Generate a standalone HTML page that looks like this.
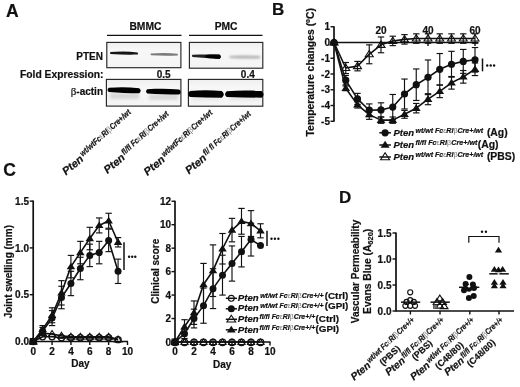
<!DOCTYPE html>
<html><head><meta charset="utf-8"><title>Figure</title>
<style>
html,body{margin:0;padding:0;background:#fff;width:520px;height:387px;overflow:hidden}
svg{display:block;filter:blur(0.3px)}
text{font-family:"Liberation Sans", sans-serif;stroke:#111;stroke-width:0.2px}
</style></head>
<body>
<svg width="520" height="387" viewBox="0 0 520 387">
<rect width="520" height="387" fill="#fff"/>
<g font-family='"Liberation Sans", sans-serif'>
<text x="6" y="16.8" text-anchor="start" fill="#111" stroke="#111" style="font-size:17.5px;font-weight:bold;font-style:normal" >A</text>
<text x="145.4" y="29.9" text-anchor="middle" fill="#111" stroke="#111" style="font-size:10.3px;font-weight:bold;font-style:normal" >BMMC</text>
<text x="226.1" y="29.9" text-anchor="middle" fill="#111" stroke="#111" style="font-size:10.3px;font-weight:bold;font-style:normal" >PMC</text>
<line x1="107.00" y1="35.40" x2="181.50" y2="35.40" stroke="#111" stroke-width="1.4"/>
<line x1="189.00" y1="35.40" x2="262.50" y2="35.40" stroke="#111" stroke-width="1.4"/>
<text x="103" y="60" text-anchor="end" fill="#111" stroke="#111" style="font-size:10px;font-weight:bold;font-style:normal" >PTEN</text>
<text x="103.5" y="77.7" text-anchor="end" fill="#111" stroke="#111" style="font-size:10.3px;font-weight:bold;font-style:normal" >Fold Expression:</text>
<text x="103" y="95.4" text-anchor="end" fill="#111" style="font-size:10px;font-weight:bold"><tspan style="font-family:'Liberation Serif',serif;font-weight:normal;font-size:11px">β</tspan>-actin</text>
<text x="163.7" y="78.0" text-anchor="middle" fill="#111" stroke="#111" style="font-size:10px;font-weight:bold;font-style:normal" >0.5</text>
<text x="247.8" y="78.0" text-anchor="middle" fill="#111" stroke="#111" style="font-size:10px;font-weight:bold;font-style:normal" >0.4</text>
<defs>
<linearGradient id="gbox" x1="0" y1="0" x2="0" y2="1"><stop offset="0" stop-color="#eeeeee"/><stop offset="0.3" stop-color="#f7f7f7"/><stop offset="1" stop-color="#f4f4f4"/></linearGradient>
<filter id="bl1" x="-20%" y="-100%" width="140%" height="300%"><feGaussianBlur stdDeviation="0.9"/></filter>
<filter id="bl2" x="-20%" y="-100%" width="140%" height="300%"><feGaussianBlur stdDeviation="0.6"/></filter>
<filter id="bl3" x="-20%" y="-100%" width="140%" height="300%"><feGaussianBlur stdDeviation="1.6"/></filter>
</defs>
<rect x="106.8" y="42.4" width="74.10000000000001" height="25.300000000000004" fill="url(#gbox)" stroke="#262626" stroke-width="1.15"/>
<rect x="189.4" y="42.4" width="73.4" height="25.800000000000004" fill="url(#gbox)" stroke="#262626" stroke-width="1.15"/>
<rect x="106.4" y="79.4" width="74.5" height="26.69999999999999" fill="url(#gbox)" stroke="#262626" stroke-width="1.15"/>
<rect x="188.4" y="79.4" width="74.4" height="26.799999999999997" fill="url(#gbox)" stroke="#262626" stroke-width="1.15"/>
<path d="M110.50,52.10 C119.50,51.10 128.50,51.10 137.50,52.60 Q138.70,53.60 137.50,54.60 C128.50,54.70 119.50,54.70 110.50,53.90 Q109.42,53.00 110.50,52.10 Z" fill="#121212" filter="url(#bl2)" />
<path d="M151.00,53.60 C159.83,52.75 168.67,52.75 177.50,53.70 Q178.58,54.60 177.50,55.50 C168.67,55.77 159.83,55.77 151.00,55.20 Q150.04,54.40 151.00,53.60 Z" fill="#7a7a7a" filter="url(#bl2)" />
<path d="M192.50,54.80 C201.50,54.35 210.50,54.35 219.50,54.70 Q222.02,56.80 219.50,58.90 C210.50,58.03 201.50,58.03 192.50,57.00 Q191.18,55.90 192.50,54.80 Z" fill="#202020" filter="url(#bl2)" />
<path d="M206.00,55.00 C210.50,54.40 215.00,54.40 219.50,54.60 Q222.14,56.80 219.50,59.00 C215.00,58.80 210.50,58.80 206.00,57.80 Q204.32,56.40 206.00,55.00 Z" fill="#000" filter="url(#bl2)" />
<path d="M230.00,56.00 C239.83,55.30 249.67,55.30 259.50,56.00 Q260.94,57.20 259.50,58.40 C249.67,58.58 239.83,58.58 230.00,58.00 Q228.80,57.00 230.00,56.00 Z" fill="#b0b0b0" filter="url(#bl1)" />
<rect x="110" y="93" width="29" height="6" fill="#d6d6d6" filter="url(#bl3)"/>
<rect x="149" y="94" width="29" height="6" fill="#d8d8d8" filter="url(#bl3)"/>
<rect x="192" y="97" width="28" height="3" fill="#e2e2e2" filter="url(#bl3)"/>
<rect x="229" y="97" width="31" height="3" fill="#e2e2e2" filter="url(#bl3)"/>
<path d="M108.80,87.70 C118.93,86.90 129.07,86.90 139.20,88.30 Q142.20,90.80 139.20,93.30 C129.07,92.90 118.93,92.90 108.80,91.90 Q106.28,89.80 108.80,87.70 Z" fill="#050505" filter="url(#bl2)" />
<path d="M147.30,89.20 C157.93,88.55 168.57,88.55 179.20,89.40 Q182.32,92.00 179.20,94.60 C168.57,94.27 157.93,94.27 147.30,93.40 Q144.78,91.30 147.30,89.20 Z" fill="#050505" filter="url(#bl2)" />
<path d="M190.00,90.90 C200.60,90.10 211.20,90.10 221.80,91.00 Q225.88,94.40 221.80,97.80 C211.20,97.66 200.60,97.66 190.00,97.10 Q186.28,94.00 190.00,90.90 Z" fill="#050505" filter="url(#bl2)" />
<path d="M226.80,91.30 C238.40,90.40 250.00,90.40 261.60,91.10 Q265.56,94.40 261.60,97.70 C250.00,97.56 238.40,97.56 226.80,97.10 Q223.32,94.20 226.80,91.30 Z" fill="#050505" filter="url(#bl2)" />
<text transform="translate(66.00,175.50) rotate(-40)" fill="#111" style="font-size:11px;font-weight:bold;font-style:italic">Pten</text>
<text transform="translate(82.77,156.73) rotate(-42)" fill="#111" textLength="65.4" lengthAdjust="spacingAndGlyphs" style="font-size:8.4px;font-weight:bold;font-style:italic">wt/wtFc<tspan fill="#777" stroke="none" style="font-weight:normal;font-style:normal">ε</tspan>RI<tspan fill="#777" stroke="none" style="font-weight:normal;font-style:normal">β</tspan>Cre+/wt</text>
<text transform="translate(107.50,174.00) rotate(-40)" fill="#111" style="font-size:11px;font-weight:bold;font-style:italic">Pten</text>
<text transform="translate(124.27,155.23) rotate(-42)" fill="#111" textLength="60.5" lengthAdjust="spacingAndGlyphs" style="font-size:8.4px;font-weight:bold;font-style:italic">fl/fl Fc<tspan fill="#777" stroke="none" style="font-weight:normal;font-style:normal">ε</tspan>RI<tspan fill="#777" stroke="none" style="font-weight:normal;font-style:normal">β</tspan>Cre+/wt</text>
<text transform="translate(147.50,176.00) rotate(-40)" fill="#111" style="font-size:11px;font-weight:bold;font-style:italic">Pten</text>
<text transform="translate(164.27,157.23) rotate(-42)" fill="#111" textLength="65.4" lengthAdjust="spacingAndGlyphs" style="font-size:8.4px;font-weight:bold;font-style:italic">wt/wtFc<tspan fill="#777" stroke="none" style="font-weight:normal;font-style:normal">ε</tspan>RI<tspan fill="#777" stroke="none" style="font-weight:normal;font-style:normal">β</tspan>Cre+/wt</text>
<text transform="translate(189.00,174.50) rotate(-40)" fill="#111" style="font-size:11px;font-weight:bold;font-style:italic">Pten</text>
<text transform="translate(205.77,155.73) rotate(-42)" fill="#111" textLength="61.5" lengthAdjust="spacingAndGlyphs" style="font-size:8.4px;font-weight:bold;font-style:italic">fl/ fl Fc<tspan fill="#777" stroke="none" style="font-weight:normal;font-style:normal">ε</tspan>RI<tspan fill="#777" stroke="none" style="font-weight:normal;font-style:normal">β</tspan>Cre+/wt</text>
<text x="272" y="14.8" text-anchor="start" fill="#111" stroke="#111" style="font-size:17px;font-weight:bold;font-style:normal" >B</text>
<text transform="translate(313.6,72.3) rotate(-90)" text-anchor="middle" fill="#111" style="font-size:10.4px;font-weight:bold">Temperature changes (ºC)</text>
<line x1="334.00" y1="26.15" x2="334.00" y2="121.85" stroke="#111" stroke-width="1.7"/>
<line x1="330.50" y1="26.75" x2="334.00" y2="26.75" stroke="#111" stroke-width="1.4"/>
<text x="330" y="30.25" text-anchor="end" fill="#111" stroke="#111" style="font-size:10px;font-weight:bold;font-style:normal" >1</text>
<line x1="330.50" y1="42.50" x2="334.00" y2="42.50" stroke="#111" stroke-width="1.4"/>
<text x="330" y="46.0" text-anchor="end" fill="#111" stroke="#111" style="font-size:10px;font-weight:bold;font-style:normal" >0</text>
<line x1="330.50" y1="58.25" x2="334.00" y2="58.25" stroke="#111" stroke-width="1.4"/>
<text x="330" y="61.75" text-anchor="end" fill="#111" stroke="#111" style="font-size:10px;font-weight:bold;font-style:normal" >-1</text>
<line x1="330.50" y1="74.00" x2="334.00" y2="74.00" stroke="#111" stroke-width="1.4"/>
<text x="330" y="77.5" text-anchor="end" fill="#111" stroke="#111" style="font-size:10px;font-weight:bold;font-style:normal" >-2</text>
<line x1="330.50" y1="89.75" x2="334.00" y2="89.75" stroke="#111" stroke-width="1.4"/>
<text x="330" y="93.25" text-anchor="end" fill="#111" stroke="#111" style="font-size:10px;font-weight:bold;font-style:normal" >-3</text>
<line x1="330.50" y1="105.50" x2="334.00" y2="105.50" stroke="#111" stroke-width="1.4"/>
<text x="330" y="109.0" text-anchor="end" fill="#111" stroke="#111" style="font-size:10px;font-weight:bold;font-style:normal" >-4</text>
<line x1="330.50" y1="121.25" x2="334.00" y2="121.25" stroke="#111" stroke-width="1.4"/>
<text x="330" y="124.75" text-anchor="end" fill="#111" stroke="#111" style="font-size:10px;font-weight:bold;font-style:normal" >-5</text>
<line x1="334.00" y1="42.50" x2="478.50" y2="42.50" stroke="#111" stroke-width="1.7"/>
<line x1="381.00" y1="42.50" x2="381.00" y2="46.00" stroke="#111" stroke-width="1.4"/>
<text x="381.0" y="34.2" text-anchor="middle" fill="#111" stroke="#111" style="font-size:10px;font-weight:bold;font-style:normal" >20</text>
<line x1="428.00" y1="42.50" x2="428.00" y2="46.00" stroke="#111" stroke-width="1.4"/>
<text x="428.0" y="34.2" text-anchor="middle" fill="#111" stroke="#111" style="font-size:10px;font-weight:bold;font-style:normal" >40</text>
<line x1="475.00" y1="42.50" x2="475.00" y2="46.00" stroke="#111" stroke-width="1.4"/>
<text x="475.0" y="34.2" text-anchor="middle" fill="#111" stroke="#111" style="font-size:10px;font-weight:bold;font-style:normal" >60</text>
<line x1="345.75" y1="62.50" x2="345.75" y2="73.53" stroke="#111" stroke-width="1.15"/>
<line x1="342.55" y1="62.50" x2="348.95" y2="62.50" stroke="#111" stroke-width="1.15"/>
<line x1="342.55" y1="73.53" x2="348.95" y2="73.53" stroke="#111" stroke-width="1.15"/>
<line x1="357.50" y1="61.40" x2="357.50" y2="70.85" stroke="#111" stroke-width="1.15"/>
<line x1="354.30" y1="61.40" x2="360.70" y2="61.40" stroke="#111" stroke-width="1.15"/>
<line x1="354.30" y1="70.85" x2="360.70" y2="70.85" stroke="#111" stroke-width="1.15"/>
<line x1="369.25" y1="44.86" x2="369.25" y2="63.76" stroke="#111" stroke-width="1.15"/>
<line x1="366.05" y1="44.86" x2="372.45" y2="44.86" stroke="#111" stroke-width="1.15"/>
<line x1="366.05" y1="63.76" x2="372.45" y2="63.76" stroke="#111" stroke-width="1.15"/>
<line x1="381.00" y1="36.99" x2="381.00" y2="52.74" stroke="#111" stroke-width="1.15"/>
<line x1="377.80" y1="36.99" x2="384.20" y2="36.99" stroke="#111" stroke-width="1.15"/>
<line x1="377.80" y1="52.74" x2="384.20" y2="52.74" stroke="#111" stroke-width="1.15"/>
<line x1="392.75" y1="36.20" x2="392.75" y2="45.65" stroke="#111" stroke-width="1.15"/>
<line x1="389.55" y1="36.20" x2="395.95" y2="36.20" stroke="#111" stroke-width="1.15"/>
<line x1="389.55" y1="45.65" x2="395.95" y2="45.65" stroke="#111" stroke-width="1.15"/>
<line x1="404.50" y1="34.62" x2="404.50" y2="44.08" stroke="#111" stroke-width="1.15"/>
<line x1="401.30" y1="34.62" x2="407.70" y2="34.62" stroke="#111" stroke-width="1.15"/>
<line x1="401.30" y1="44.08" x2="407.70" y2="44.08" stroke="#111" stroke-width="1.15"/>
<line x1="416.25" y1="33.84" x2="416.25" y2="43.29" stroke="#111" stroke-width="1.15"/>
<line x1="413.05" y1="33.84" x2="419.45" y2="33.84" stroke="#111" stroke-width="1.15"/>
<line x1="413.05" y1="43.29" x2="419.45" y2="43.29" stroke="#111" stroke-width="1.15"/>
<line x1="428.00" y1="33.84" x2="428.00" y2="43.29" stroke="#111" stroke-width="1.15"/>
<line x1="424.80" y1="33.84" x2="431.20" y2="33.84" stroke="#111" stroke-width="1.15"/>
<line x1="424.80" y1="43.29" x2="431.20" y2="43.29" stroke="#111" stroke-width="1.15"/>
<line x1="439.75" y1="33.84" x2="439.75" y2="43.29" stroke="#111" stroke-width="1.15"/>
<line x1="436.55" y1="33.84" x2="442.95" y2="33.84" stroke="#111" stroke-width="1.15"/>
<line x1="436.55" y1="43.29" x2="442.95" y2="43.29" stroke="#111" stroke-width="1.15"/>
<line x1="451.50" y1="33.84" x2="451.50" y2="43.29" stroke="#111" stroke-width="1.15"/>
<line x1="448.30" y1="33.84" x2="454.70" y2="33.84" stroke="#111" stroke-width="1.15"/>
<line x1="448.30" y1="43.29" x2="454.70" y2="43.29" stroke="#111" stroke-width="1.15"/>
<line x1="463.25" y1="33.84" x2="463.25" y2="43.29" stroke="#111" stroke-width="1.15"/>
<line x1="460.05" y1="33.84" x2="466.45" y2="33.84" stroke="#111" stroke-width="1.15"/>
<line x1="460.05" y1="43.29" x2="466.45" y2="43.29" stroke="#111" stroke-width="1.15"/>
<line x1="475.00" y1="33.84" x2="475.00" y2="43.29" stroke="#111" stroke-width="1.15"/>
<line x1="471.80" y1="33.84" x2="478.20" y2="33.84" stroke="#111" stroke-width="1.15"/>
<line x1="471.80" y1="43.29" x2="478.20" y2="43.29" stroke="#111" stroke-width="1.15"/>
<line x1="345.75" y1="75.42" x2="345.75" y2="84.87" stroke="#111" stroke-width="1.15"/>
<line x1="342.55" y1="75.42" x2="348.95" y2="75.42" stroke="#111" stroke-width="1.15"/>
<line x1="342.55" y1="84.87" x2="348.95" y2="84.87" stroke="#111" stroke-width="1.15"/>
<line x1="357.50" y1="93.37" x2="357.50" y2="104.40" stroke="#111" stroke-width="1.15"/>
<line x1="354.30" y1="93.37" x2="360.70" y2="93.37" stroke="#111" stroke-width="1.15"/>
<line x1="354.30" y1="104.40" x2="360.70" y2="104.40" stroke="#111" stroke-width="1.15"/>
<line x1="369.25" y1="103.92" x2="369.25" y2="116.53" stroke="#111" stroke-width="1.15"/>
<line x1="366.05" y1="103.92" x2="372.45" y2="103.92" stroke="#111" stroke-width="1.15"/>
<line x1="366.05" y1="116.53" x2="372.45" y2="116.53" stroke="#111" stroke-width="1.15"/>
<line x1="381.00" y1="102.82" x2="381.00" y2="117.00" stroke="#111" stroke-width="1.15"/>
<line x1="377.80" y1="102.82" x2="384.20" y2="102.82" stroke="#111" stroke-width="1.15"/>
<line x1="377.80" y1="117.00" x2="384.20" y2="117.00" stroke="#111" stroke-width="1.15"/>
<line x1="392.75" y1="94.47" x2="392.75" y2="119.67" stroke="#111" stroke-width="1.15"/>
<line x1="389.55" y1="94.47" x2="395.95" y2="94.47" stroke="#111" stroke-width="1.15"/>
<line x1="389.55" y1="119.67" x2="395.95" y2="119.67" stroke="#111" stroke-width="1.15"/>
<line x1="404.50" y1="79.04" x2="404.50" y2="108.96" stroke="#111" stroke-width="1.15"/>
<line x1="401.30" y1="79.04" x2="407.70" y2="79.04" stroke="#111" stroke-width="1.15"/>
<line x1="401.30" y1="108.96" x2="407.70" y2="108.96" stroke="#111" stroke-width="1.15"/>
<line x1="416.25" y1="68.96" x2="416.25" y2="100.46" stroke="#111" stroke-width="1.15"/>
<line x1="413.05" y1="68.96" x2="419.45" y2="68.96" stroke="#111" stroke-width="1.15"/>
<line x1="413.05" y1="100.46" x2="419.45" y2="100.46" stroke="#111" stroke-width="1.15"/>
<line x1="428.00" y1="59.98" x2="428.00" y2="94.63" stroke="#111" stroke-width="1.15"/>
<line x1="424.80" y1="59.98" x2="431.20" y2="59.98" stroke="#111" stroke-width="1.15"/>
<line x1="424.80" y1="94.63" x2="431.20" y2="94.63" stroke="#111" stroke-width="1.15"/>
<line x1="439.75" y1="53.52" x2="439.75" y2="85.03" stroke="#111" stroke-width="1.15"/>
<line x1="436.55" y1="53.52" x2="442.95" y2="53.52" stroke="#111" stroke-width="1.15"/>
<line x1="436.55" y1="85.03" x2="442.95" y2="85.03" stroke="#111" stroke-width="1.15"/>
<line x1="451.50" y1="51.32" x2="451.50" y2="77.15" stroke="#111" stroke-width="1.15"/>
<line x1="448.30" y1="51.32" x2="454.70" y2="51.32" stroke="#111" stroke-width="1.15"/>
<line x1="448.30" y1="77.15" x2="454.70" y2="77.15" stroke="#111" stroke-width="1.15"/>
<line x1="463.25" y1="49.43" x2="463.25" y2="73.37" stroke="#111" stroke-width="1.15"/>
<line x1="460.05" y1="49.43" x2="466.45" y2="49.43" stroke="#111" stroke-width="1.15"/>
<line x1="460.05" y1="73.37" x2="466.45" y2="73.37" stroke="#111" stroke-width="1.15"/>
<line x1="475.00" y1="47.54" x2="475.00" y2="72.11" stroke="#111" stroke-width="1.15"/>
<line x1="471.80" y1="47.54" x2="478.20" y2="47.54" stroke="#111" stroke-width="1.15"/>
<line x1="471.80" y1="72.11" x2="478.20" y2="72.11" stroke="#111" stroke-width="1.15"/>
<line x1="345.75" y1="85.97" x2="345.75" y2="90.69" stroke="#111" stroke-width="1.15"/>
<line x1="342.55" y1="85.97" x2="348.95" y2="85.97" stroke="#111" stroke-width="1.15"/>
<line x1="342.55" y1="90.69" x2="348.95" y2="90.69" stroke="#111" stroke-width="1.15"/>
<line x1="357.50" y1="101.72" x2="357.50" y2="108.02" stroke="#111" stroke-width="1.15"/>
<line x1="354.30" y1="101.72" x2="360.70" y2="101.72" stroke="#111" stroke-width="1.15"/>
<line x1="354.30" y1="108.02" x2="360.70" y2="108.02" stroke="#111" stroke-width="1.15"/>
<line x1="369.25" y1="109.91" x2="369.25" y2="119.36" stroke="#111" stroke-width="1.15"/>
<line x1="366.05" y1="109.91" x2="372.45" y2="109.91" stroke="#111" stroke-width="1.15"/>
<line x1="366.05" y1="119.36" x2="372.45" y2="119.36" stroke="#111" stroke-width="1.15"/>
<line x1="381.00" y1="117.00" x2="381.00" y2="123.30" stroke="#111" stroke-width="1.15"/>
<line x1="377.80" y1="117.00" x2="384.20" y2="117.00" stroke="#111" stroke-width="1.15"/>
<line x1="377.80" y1="123.30" x2="384.20" y2="123.30" stroke="#111" stroke-width="1.15"/>
<line x1="392.75" y1="117.00" x2="392.75" y2="123.30" stroke="#111" stroke-width="1.15"/>
<line x1="389.55" y1="117.00" x2="395.95" y2="117.00" stroke="#111" stroke-width="1.15"/>
<line x1="389.55" y1="123.30" x2="395.95" y2="123.30" stroke="#111" stroke-width="1.15"/>
<line x1="404.50" y1="110.38" x2="404.50" y2="118.26" stroke="#111" stroke-width="1.15"/>
<line x1="401.30" y1="110.38" x2="407.70" y2="110.38" stroke="#111" stroke-width="1.15"/>
<line x1="401.30" y1="118.26" x2="407.70" y2="118.26" stroke="#111" stroke-width="1.15"/>
<line x1="416.25" y1="103.45" x2="416.25" y2="112.90" stroke="#111" stroke-width="1.15"/>
<line x1="413.05" y1="103.45" x2="419.45" y2="103.45" stroke="#111" stroke-width="1.15"/>
<line x1="413.05" y1="112.90" x2="419.45" y2="112.90" stroke="#111" stroke-width="1.15"/>
<line x1="428.00" y1="93.69" x2="428.00" y2="104.71" stroke="#111" stroke-width="1.15"/>
<line x1="424.80" y1="93.69" x2="431.20" y2="93.69" stroke="#111" stroke-width="1.15"/>
<line x1="424.80" y1="104.71" x2="431.20" y2="104.71" stroke="#111" stroke-width="1.15"/>
<line x1="439.75" y1="85.03" x2="439.75" y2="97.62" stroke="#111" stroke-width="1.15"/>
<line x1="436.55" y1="85.03" x2="442.95" y2="85.03" stroke="#111" stroke-width="1.15"/>
<line x1="436.55" y1="97.62" x2="442.95" y2="97.62" stroke="#111" stroke-width="1.15"/>
<line x1="451.50" y1="76.52" x2="451.50" y2="89.12" stroke="#111" stroke-width="1.15"/>
<line x1="448.30" y1="76.52" x2="454.70" y2="76.52" stroke="#111" stroke-width="1.15"/>
<line x1="448.30" y1="89.12" x2="454.70" y2="89.12" stroke="#111" stroke-width="1.15"/>
<line x1="463.25" y1="70.53" x2="463.25" y2="83.13" stroke="#111" stroke-width="1.15"/>
<line x1="460.05" y1="70.53" x2="466.45" y2="70.53" stroke="#111" stroke-width="1.15"/>
<line x1="460.05" y1="83.13" x2="466.45" y2="83.13" stroke="#111" stroke-width="1.15"/>
<line x1="475.00" y1="62.97" x2="475.00" y2="75.58" stroke="#111" stroke-width="1.15"/>
<line x1="471.80" y1="62.97" x2="478.20" y2="62.97" stroke="#111" stroke-width="1.15"/>
<line x1="471.80" y1="75.58" x2="478.20" y2="75.58" stroke="#111" stroke-width="1.15"/>
<polyline points="334.00,42.50 345.75,68.02 357.50,66.12 369.25,54.31 381.00,44.86 392.75,40.92 404.50,39.35 416.25,38.56 428.00,38.56 439.75,38.56 451.50,38.56 463.25,38.56 475.00,38.56" fill="none" stroke="#111" stroke-width="1.6" stroke-linejoin="round"/>
<polyline points="334.00,42.50 345.75,80.14 357.50,98.88 369.25,110.22 381.00,109.91 392.75,107.07 404.50,94.00 416.25,84.71 428.00,77.31 439.75,69.28 451.50,64.23 463.25,61.40 475.00,59.83" fill="none" stroke="#111" stroke-width="1.6" stroke-linejoin="round"/>
<polyline points="334.00,42.50 345.75,88.33 357.50,104.87 369.25,114.64 381.00,120.15 392.75,120.15 404.50,114.32 416.25,108.18 428.00,99.20 439.75,91.33 451.50,82.82 463.25,76.84 475.00,69.28" fill="none" stroke="#111" stroke-width="1.6" stroke-linejoin="round"/>
<polygon points="334.00,38.76 338.00,45.00 330.00,45.00" fill="none" stroke="#111" stroke-width="1.1" stroke-linejoin="miter"/>
<polygon points="345.75,64.27 349.75,70.51 341.75,70.51" fill="none" stroke="#111" stroke-width="1.1" stroke-linejoin="miter"/>
<polygon points="357.50,62.38 361.50,68.62 353.50,68.62" fill="none" stroke="#111" stroke-width="1.1" stroke-linejoin="miter"/>
<polygon points="369.25,50.57 373.25,56.81 365.25,56.81" fill="none" stroke="#111" stroke-width="1.1" stroke-linejoin="miter"/>
<polygon points="381.00,41.12 385.00,47.36 377.00,47.36" fill="none" stroke="#111" stroke-width="1.1" stroke-linejoin="miter"/>
<polygon points="392.75,37.18 396.75,43.42 388.75,43.42" fill="none" stroke="#111" stroke-width="1.1" stroke-linejoin="miter"/>
<polygon points="404.50,35.61 408.50,41.85 400.50,41.85" fill="none" stroke="#111" stroke-width="1.1" stroke-linejoin="miter"/>
<polygon points="416.25,34.82 420.25,41.06 412.25,41.06" fill="none" stroke="#111" stroke-width="1.1" stroke-linejoin="miter"/>
<polygon points="428.00,34.82 432.00,41.06 424.00,41.06" fill="none" stroke="#111" stroke-width="1.1" stroke-linejoin="miter"/>
<polygon points="439.75,34.82 443.75,41.06 435.75,41.06" fill="none" stroke="#111" stroke-width="1.1" stroke-linejoin="miter"/>
<polygon points="451.50,34.82 455.50,41.06 447.50,41.06" fill="none" stroke="#111" stroke-width="1.1" stroke-linejoin="miter"/>
<polygon points="463.25,34.82 467.25,41.06 459.25,41.06" fill="none" stroke="#111" stroke-width="1.1" stroke-linejoin="miter"/>
<polygon points="475.00,34.82 479.00,41.06 471.00,41.06" fill="none" stroke="#111" stroke-width="1.1" stroke-linejoin="miter"/>
<polygon points="334.00,38.41 338.38,45.23 329.62,45.23" fill="#111"/>
<polygon points="345.75,84.24 350.12,91.06 341.38,91.06" fill="#111"/>
<polygon points="357.50,100.78 361.88,107.60 353.12,107.60" fill="#111"/>
<polygon points="369.25,110.54 373.62,117.37 364.88,117.37" fill="#111"/>
<polygon points="381.00,116.05 385.38,122.88 376.62,122.88" fill="#111"/>
<polygon points="392.75,116.05 397.12,122.88 388.38,122.88" fill="#111"/>
<polygon points="404.50,110.22 408.88,117.05 400.12,117.05" fill="#111"/>
<polygon points="416.25,104.08 420.62,110.91 411.88,110.91" fill="#111"/>
<polygon points="428.00,95.11 432.38,101.93 423.62,101.93" fill="#111"/>
<polygon points="439.75,87.23 444.12,94.06 435.38,94.06" fill="#111"/>
<polygon points="451.50,78.72 455.88,85.55 447.12,85.55" fill="#111"/>
<polygon points="463.25,72.74 467.62,79.57 458.88,79.57" fill="#111"/>
<polygon points="475.00,65.18 479.38,72.01 470.62,72.01" fill="#111"/>
<circle cx="334.00" cy="42.50" r="3.60" fill="#111"/>
<circle cx="345.75" cy="80.14" r="3.60" fill="#111"/>
<circle cx="357.50" cy="98.88" r="3.60" fill="#111"/>
<circle cx="369.25" cy="110.22" r="3.60" fill="#111"/>
<circle cx="381.00" cy="109.91" r="3.60" fill="#111"/>
<circle cx="392.75" cy="107.07" r="3.60" fill="#111"/>
<circle cx="404.50" cy="94.00" r="3.60" fill="#111"/>
<circle cx="416.25" cy="84.71" r="3.60" fill="#111"/>
<circle cx="428.00" cy="77.31" r="3.60" fill="#111"/>
<circle cx="439.75" cy="69.28" r="3.60" fill="#111"/>
<circle cx="451.50" cy="64.23" r="3.60" fill="#111"/>
<circle cx="463.25" cy="61.40" r="3.60" fill="#111"/>
<circle cx="475.00" cy="59.83" r="3.60" fill="#111"/>
<circle cx="334.00" cy="42.50" r="3.60" fill="#111"/>
<line x1="482.50" y1="58.50" x2="482.50" y2="71.30" stroke="#111" stroke-width="1.5"/>
<circle cx="487.2" cy="65.5" r="1.2" fill="#111"/>
<circle cx="490.7" cy="65.5" r="1.2" fill="#111"/>
<circle cx="494.1" cy="65.5" r="1.2" fill="#111"/>
<line x1="379.30" y1="132.80" x2="390.90" y2="132.80" stroke="#111" stroke-width="1.5"/>
<circle cx="385.10" cy="132.80" r="3.60" fill="#111"/>
<text x="393.5" y="135.6" fill="#111" style="font-size:9.5px;font-weight:bold;font-style:italic">Pten</text>
<text x="415.40" y="133.1" fill="#111" textLength="67.8" lengthAdjust="spacingAndGlyphs" style="font-size:6.4px;font-weight:bold;font-style:italic">wt/wt Fc<tspan fill="#777" stroke="none" style="font-weight:normal;font-style:normal">ε</tspan>RI<tspan fill="#777" stroke="none" style="font-weight:normal;font-style:normal">β</tspan>Cre+/wt</text>
<text x="486.9" y="135.6" text-anchor="start" fill="#111" stroke="#111" style="font-size:10.4px;font-weight:bold;font-style:normal" >(Ag)</text>
<line x1="379.30" y1="145.00" x2="390.90" y2="145.00" stroke="#111" stroke-width="1.5"/>
<polygon points="385.10,140.79 389.60,147.81 380.60,147.81" fill="#111"/>
<text x="393.5" y="147.6" fill="#111" style="font-size:9.5px;font-weight:bold;font-style:italic">Pten</text>
<text x="415.40" y="145.1" fill="#111" textLength="62.0" lengthAdjust="spacingAndGlyphs" style="font-size:6.4px;font-weight:bold;font-style:italic">fl/fl Fc<tspan fill="#777" stroke="none" style="font-weight:normal;font-style:normal">ε</tspan>RI<tspan fill="#777" stroke="none" style="font-weight:normal;font-style:normal">β</tspan>Cre+/wt</text>
<text x="477.7" y="147.6" text-anchor="start" fill="#111" stroke="#111" style="font-size:10.4px;font-weight:bold;font-style:normal" >(Ag)</text>
<line x1="379.30" y1="157.00" x2="390.90" y2="157.00" stroke="#111" stroke-width="1.5"/>
<polygon points="385.10,152.79 389.60,159.81 380.60,159.81" fill="none" stroke="#111" stroke-width="1.1" stroke-linejoin="miter"/>
<text x="393.5" y="159.6" fill="#111" style="font-size:9.5px;font-weight:bold;font-style:italic">Pten</text>
<text x="415.40" y="157.1" fill="#111" textLength="67.8" lengthAdjust="spacingAndGlyphs" style="font-size:6.4px;font-weight:bold;font-style:italic">wt/wt Fc<tspan fill="#777" stroke="none" style="font-weight:normal;font-style:normal">ε</tspan>RI<tspan fill="#777" stroke="none" style="font-weight:normal;font-style:normal">β</tspan>Cre+/wt</text>
<text x="486.9" y="159.6" text-anchor="start" fill="#111" stroke="#111" style="font-size:10.4px;font-weight:bold;font-style:normal" >(PBS)</text>
<text x="3.2" y="175.5" text-anchor="start" fill="#111" stroke="#111" style="font-size:17.5px;font-weight:bold;font-style:normal" >C</text>
<text transform="translate(12.3,271.7) rotate(-90)" text-anchor="middle" fill="#111" style="font-size:10px;font-weight:bold">Joint swelling (mm)</text>
<line x1="33.20" y1="200.50" x2="33.20" y2="342.10" stroke="#111" stroke-width="1.7"/>
<line x1="29.70" y1="341.50" x2="33.20" y2="341.50" stroke="#111" stroke-width="1.4"/>
<text x="29" y="345.1" text-anchor="end" fill="#111" stroke="#111" style="font-size:10px;font-weight:bold;font-style:normal" >0.0</text>
<line x1="29.70" y1="294.70" x2="33.20" y2="294.70" stroke="#111" stroke-width="1.4"/>
<text x="29" y="298.3" text-anchor="end" fill="#111" stroke="#111" style="font-size:10px;font-weight:bold;font-style:normal" >0.5</text>
<line x1="29.70" y1="247.90" x2="33.20" y2="247.90" stroke="#111" stroke-width="1.4"/>
<text x="29" y="251.5" text-anchor="end" fill="#111" stroke="#111" style="font-size:10px;font-weight:bold;font-style:normal" >1.0</text>
<line x1="29.70" y1="201.10" x2="33.20" y2="201.10" stroke="#111" stroke-width="1.4"/>
<text x="29" y="204.70000000000002" text-anchor="end" fill="#111" stroke="#111" style="font-size:10px;font-weight:bold;font-style:normal" >1.5</text>
<line x1="33.20" y1="341.50" x2="128.00" y2="341.50" stroke="#111" stroke-width="1.7"/>
<line x1="33.20" y1="341.50" x2="33.20" y2="345.00" stroke="#111" stroke-width="1.4"/>
<text x="33.2" y="354.5" text-anchor="middle" fill="#111" stroke="#111" style="font-size:10px;font-weight:bold;font-style:normal" >0</text>
<line x1="52.06" y1="341.50" x2="52.06" y2="345.00" stroke="#111" stroke-width="1.4"/>
<text x="52.06" y="354.5" text-anchor="middle" fill="#111" stroke="#111" style="font-size:10px;font-weight:bold;font-style:normal" >2</text>
<line x1="70.92" y1="341.50" x2="70.92" y2="345.00" stroke="#111" stroke-width="1.4"/>
<text x="70.92" y="354.5" text-anchor="middle" fill="#111" stroke="#111" style="font-size:10px;font-weight:bold;font-style:normal" >4</text>
<line x1="89.78" y1="341.50" x2="89.78" y2="345.00" stroke="#111" stroke-width="1.4"/>
<text x="89.78" y="354.5" text-anchor="middle" fill="#111" stroke="#111" style="font-size:10px;font-weight:bold;font-style:normal" >6</text>
<line x1="108.64" y1="341.50" x2="108.64" y2="345.00" stroke="#111" stroke-width="1.4"/>
<text x="108.64" y="354.5" text-anchor="middle" fill="#111" stroke="#111" style="font-size:10px;font-weight:bold;font-style:normal" >8</text>
<line x1="127.50" y1="341.50" x2="127.50" y2="345.00" stroke="#111" stroke-width="1.4"/>
<text x="127.5" y="354.5" text-anchor="middle" fill="#111" stroke="#111" style="font-size:10px;font-weight:bold;font-style:normal" >10</text>
<text x="80.5" y="366.5" text-anchor="middle" fill="#111" stroke="#111" style="font-size:10px;font-weight:bold;font-style:normal" >Day</text>
<line x1="42.63" y1="325.59" x2="42.63" y2="333.08" stroke="#111" stroke-width="1.15"/>
<line x1="39.43" y1="325.59" x2="45.83" y2="325.59" stroke="#111" stroke-width="1.15"/>
<line x1="39.43" y1="333.08" x2="45.83" y2="333.08" stroke="#111" stroke-width="1.15"/>
<line x1="52.06" y1="307.80" x2="52.06" y2="322.78" stroke="#111" stroke-width="1.15"/>
<line x1="48.86" y1="307.80" x2="55.26" y2="307.80" stroke="#111" stroke-width="1.15"/>
<line x1="48.86" y1="322.78" x2="55.26" y2="322.78" stroke="#111" stroke-width="1.15"/>
<line x1="61.49" y1="280.66" x2="61.49" y2="305.00" stroke="#111" stroke-width="1.15"/>
<line x1="58.29" y1="280.66" x2="64.69" y2="280.66" stroke="#111" stroke-width="1.15"/>
<line x1="58.29" y1="305.00" x2="64.69" y2="305.00" stroke="#111" stroke-width="1.15"/>
<line x1="70.92" y1="255.39" x2="70.92" y2="277.85" stroke="#111" stroke-width="1.15"/>
<line x1="67.72" y1="255.39" x2="74.12" y2="255.39" stroke="#111" stroke-width="1.15"/>
<line x1="67.72" y1="277.85" x2="74.12" y2="277.85" stroke="#111" stroke-width="1.15"/>
<line x1="80.35" y1="241.35" x2="80.35" y2="263.81" stroke="#111" stroke-width="1.15"/>
<line x1="77.15" y1="241.35" x2="83.55" y2="241.35" stroke="#111" stroke-width="1.15"/>
<line x1="77.15" y1="263.81" x2="83.55" y2="263.81" stroke="#111" stroke-width="1.15"/>
<line x1="89.78" y1="227.31" x2="89.78" y2="249.77" stroke="#111" stroke-width="1.15"/>
<line x1="86.58" y1="227.31" x2="92.98" y2="227.31" stroke="#111" stroke-width="1.15"/>
<line x1="86.58" y1="249.77" x2="92.98" y2="249.77" stroke="#111" stroke-width="1.15"/>
<line x1="99.21" y1="217.95" x2="99.21" y2="232.92" stroke="#111" stroke-width="1.15"/>
<line x1="96.01" y1="217.95" x2="102.41" y2="217.95" stroke="#111" stroke-width="1.15"/>
<line x1="96.01" y1="232.92" x2="102.41" y2="232.92" stroke="#111" stroke-width="1.15"/>
<line x1="108.64" y1="213.27" x2="108.64" y2="228.24" stroke="#111" stroke-width="1.15"/>
<line x1="105.44" y1="213.27" x2="111.84" y2="213.27" stroke="#111" stroke-width="1.15"/>
<line x1="105.44" y1="228.24" x2="111.84" y2="228.24" stroke="#111" stroke-width="1.15"/>
<line x1="118.07" y1="237.60" x2="118.07" y2="246.96" stroke="#111" stroke-width="1.15"/>
<line x1="114.87" y1="237.60" x2="121.27" y2="237.60" stroke="#111" stroke-width="1.15"/>
<line x1="114.87" y1="246.96" x2="121.27" y2="246.96" stroke="#111" stroke-width="1.15"/>
<line x1="42.63" y1="327.46" x2="42.63" y2="334.95" stroke="#111" stroke-width="1.15"/>
<line x1="39.43" y1="327.46" x2="45.83" y2="327.46" stroke="#111" stroke-width="1.15"/>
<line x1="39.43" y1="334.95" x2="45.83" y2="334.95" stroke="#111" stroke-width="1.15"/>
<line x1="52.06" y1="310.61" x2="52.06" y2="325.59" stroke="#111" stroke-width="1.15"/>
<line x1="48.86" y1="310.61" x2="55.26" y2="310.61" stroke="#111" stroke-width="1.15"/>
<line x1="48.86" y1="325.59" x2="55.26" y2="325.59" stroke="#111" stroke-width="1.15"/>
<line x1="61.49" y1="286.28" x2="61.49" y2="308.74" stroke="#111" stroke-width="1.15"/>
<line x1="58.29" y1="286.28" x2="64.69" y2="286.28" stroke="#111" stroke-width="1.15"/>
<line x1="58.29" y1="308.74" x2="64.69" y2="308.74" stroke="#111" stroke-width="1.15"/>
<line x1="70.92" y1="271.30" x2="70.92" y2="295.64" stroke="#111" stroke-width="1.15"/>
<line x1="67.72" y1="271.30" x2="74.12" y2="271.30" stroke="#111" stroke-width="1.15"/>
<line x1="67.72" y1="295.64" x2="74.12" y2="295.64" stroke="#111" stroke-width="1.15"/>
<line x1="80.35" y1="257.26" x2="80.35" y2="279.72" stroke="#111" stroke-width="1.15"/>
<line x1="77.15" y1="257.26" x2="83.55" y2="257.26" stroke="#111" stroke-width="1.15"/>
<line x1="77.15" y1="279.72" x2="83.55" y2="279.72" stroke="#111" stroke-width="1.15"/>
<line x1="89.78" y1="244.16" x2="89.78" y2="266.62" stroke="#111" stroke-width="1.15"/>
<line x1="86.58" y1="244.16" x2="92.98" y2="244.16" stroke="#111" stroke-width="1.15"/>
<line x1="86.58" y1="266.62" x2="92.98" y2="266.62" stroke="#111" stroke-width="1.15"/>
<line x1="99.21" y1="241.35" x2="99.21" y2="263.81" stroke="#111" stroke-width="1.15"/>
<line x1="96.01" y1="241.35" x2="102.41" y2="241.35" stroke="#111" stroke-width="1.15"/>
<line x1="96.01" y1="263.81" x2="102.41" y2="263.81" stroke="#111" stroke-width="1.15"/>
<line x1="108.64" y1="229.18" x2="108.64" y2="251.64" stroke="#111" stroke-width="1.15"/>
<line x1="105.44" y1="229.18" x2="111.84" y2="229.18" stroke="#111" stroke-width="1.15"/>
<line x1="105.44" y1="251.64" x2="111.84" y2="251.64" stroke="#111" stroke-width="1.15"/>
<line x1="118.07" y1="259.13" x2="118.07" y2="283.47" stroke="#111" stroke-width="1.15"/>
<line x1="114.87" y1="259.13" x2="121.27" y2="259.13" stroke="#111" stroke-width="1.15"/>
<line x1="114.87" y1="283.47" x2="121.27" y2="283.47" stroke="#111" stroke-width="1.15"/>
<polyline points="33.20,341.50 42.63,333.08 52.06,334.01 61.49,335.88 70.92,336.82 80.35,336.82 89.78,336.82 99.21,336.82 108.64,336.82 118.07,339.63" fill="none" stroke="#111" stroke-width="1.6" stroke-linejoin="round"/>
<polyline points="33.20,341.50 42.63,336.82 52.06,336.82 61.49,337.76 70.92,337.76 80.35,337.76 89.78,337.76 99.21,337.76 108.64,337.76 118.07,339.63" fill="none" stroke="#111" stroke-width="1.6" stroke-linejoin="round"/>
<polyline points="33.20,341.50 42.63,329.33 52.06,315.29 61.49,292.83 70.92,266.62 80.35,252.58 89.78,238.54 99.21,225.44 108.64,220.76 118.07,242.28" fill="none" stroke="#111" stroke-width="1.6" stroke-linejoin="round"/>
<polyline points="33.20,341.50 42.63,331.20 52.06,318.10 61.49,297.51 70.92,283.47 80.35,268.49 89.78,255.39 99.21,252.58 108.64,240.41 118.07,271.30" fill="none" stroke="#111" stroke-width="1.6" stroke-linejoin="round"/>
<polygon points="33.20,337.99 36.95,343.84 29.45,343.84" fill="none" stroke="#111" stroke-width="1.1" stroke-linejoin="miter"/>
<polygon points="42.63,329.57 46.38,335.42 38.88,335.42" fill="none" stroke="#111" stroke-width="1.1" stroke-linejoin="miter"/>
<polygon points="52.06,330.50 55.81,336.35 48.31,336.35" fill="none" stroke="#111" stroke-width="1.1" stroke-linejoin="miter"/>
<polygon points="61.49,332.37 65.24,338.22 57.74,338.22" fill="none" stroke="#111" stroke-width="1.1" stroke-linejoin="miter"/>
<polygon points="70.92,333.31 74.67,339.16 67.17,339.16" fill="none" stroke="#111" stroke-width="1.1" stroke-linejoin="miter"/>
<polygon points="80.35,333.31 84.10,339.16 76.60,339.16" fill="none" stroke="#111" stroke-width="1.1" stroke-linejoin="miter"/>
<polygon points="89.78,333.31 93.53,339.16 86.03,339.16" fill="none" stroke="#111" stroke-width="1.1" stroke-linejoin="miter"/>
<polygon points="99.21,333.31 102.96,339.16 95.46,339.16" fill="none" stroke="#111" stroke-width="1.1" stroke-linejoin="miter"/>
<polygon points="108.64,333.31 112.39,339.16 104.89,339.16" fill="none" stroke="#111" stroke-width="1.1" stroke-linejoin="miter"/>
<polygon points="118.07,336.12 121.82,341.97 114.32,341.97" fill="none" stroke="#111" stroke-width="1.1" stroke-linejoin="miter"/>
<circle cx="33.20" cy="341.50" r="3.05" fill="none" stroke="#111" stroke-width="1.3"/>
<circle cx="42.63" cy="336.82" r="3.05" fill="none" stroke="#111" stroke-width="1.3"/>
<circle cx="52.06" cy="336.82" r="3.05" fill="none" stroke="#111" stroke-width="1.3"/>
<circle cx="61.49" cy="337.76" r="3.05" fill="none" stroke="#111" stroke-width="1.3"/>
<circle cx="70.92" cy="337.76" r="3.05" fill="none" stroke="#111" stroke-width="1.3"/>
<circle cx="80.35" cy="337.76" r="3.05" fill="none" stroke="#111" stroke-width="1.3"/>
<circle cx="89.78" cy="337.76" r="3.05" fill="none" stroke="#111" stroke-width="1.3"/>
<circle cx="99.21" cy="337.76" r="3.05" fill="none" stroke="#111" stroke-width="1.3"/>
<circle cx="108.64" cy="337.76" r="3.05" fill="none" stroke="#111" stroke-width="1.3"/>
<circle cx="118.07" cy="339.63" r="3.05" fill="none" stroke="#111" stroke-width="1.3"/>
<polygon points="33.20,337.52 37.45,344.15 28.95,344.15" fill="#111"/>
<polygon points="42.63,325.35 46.88,331.98 38.38,331.98" fill="#111"/>
<polygon points="52.06,311.31 56.31,317.94 47.81,317.94" fill="#111"/>
<polygon points="61.49,288.85 65.74,295.48 57.24,295.48" fill="#111"/>
<polygon points="70.92,262.64 75.17,269.27 66.67,269.27" fill="#111"/>
<polygon points="80.35,248.60 84.60,255.23 76.10,255.23" fill="#111"/>
<polygon points="89.78,234.56 94.03,241.19 85.53,241.19" fill="#111"/>
<polygon points="99.21,221.46 103.46,228.09 94.96,228.09" fill="#111"/>
<polygon points="108.64,216.78 112.89,223.41 104.39,223.41" fill="#111"/>
<polygon points="118.07,238.31 122.32,244.94 113.82,244.94" fill="#111"/>
<circle cx="33.20" cy="341.50" r="3.50" fill="#111"/>
<circle cx="42.63" cy="331.20" r="3.50" fill="#111"/>
<circle cx="52.06" cy="318.10" r="3.50" fill="#111"/>
<circle cx="61.49" cy="297.51" r="3.50" fill="#111"/>
<circle cx="70.92" cy="283.47" r="3.50" fill="#111"/>
<circle cx="80.35" cy="268.49" r="3.50" fill="#111"/>
<circle cx="89.78" cy="255.39" r="3.50" fill="#111"/>
<circle cx="99.21" cy="252.58" r="3.50" fill="#111"/>
<circle cx="108.64" cy="240.41" r="3.50" fill="#111"/>
<circle cx="118.07" cy="271.30" r="3.50" fill="#111"/>
<rect x="29.700000000000003" y="338.0" width="7" height="7" fill="#111"/>
<line x1="124.00" y1="242.20" x2="124.00" y2="270.10" stroke="#111" stroke-width="1.5"/>
<circle cx="129.1" cy="256.7" r="1.2" fill="#111"/>
<circle cx="132.2" cy="256.7" r="1.2" fill="#111"/>
<circle cx="135.3" cy="256.7" r="1.2" fill="#111"/>
<text transform="translate(158.6,271.3) rotate(-90)" text-anchor="middle" fill="#111" style="font-size:10px;font-weight:bold">Clinical score</text>
<line x1="175.00" y1="200.64" x2="175.00" y2="342.60" stroke="#111" stroke-width="1.7"/>
<line x1="171.50" y1="342.00" x2="175.00" y2="342.00" stroke="#111" stroke-width="1.4"/>
<text x="171" y="345.6" text-anchor="end" fill="#111" stroke="#111" style="font-size:10px;font-weight:bold;font-style:normal" >0</text>
<line x1="171.50" y1="318.54" x2="175.00" y2="318.54" stroke="#111" stroke-width="1.4"/>
<text x="171" y="322.14000000000004" text-anchor="end" fill="#111" stroke="#111" style="font-size:10px;font-weight:bold;font-style:normal" >2</text>
<line x1="171.50" y1="295.08" x2="175.00" y2="295.08" stroke="#111" stroke-width="1.4"/>
<text x="171" y="298.68" text-anchor="end" fill="#111" stroke="#111" style="font-size:10px;font-weight:bold;font-style:normal" >4</text>
<line x1="171.50" y1="271.62" x2="175.00" y2="271.62" stroke="#111" stroke-width="1.4"/>
<text x="171" y="275.22" text-anchor="end" fill="#111" stroke="#111" style="font-size:10px;font-weight:bold;font-style:normal" >6</text>
<line x1="171.50" y1="248.16" x2="175.00" y2="248.16" stroke="#111" stroke-width="1.4"/>
<text x="171" y="251.76" text-anchor="end" fill="#111" stroke="#111" style="font-size:10px;font-weight:bold;font-style:normal" >8</text>
<line x1="171.50" y1="224.70" x2="175.00" y2="224.70" stroke="#111" stroke-width="1.4"/>
<text x="171" y="228.29999999999998" text-anchor="end" fill="#111" stroke="#111" style="font-size:10px;font-weight:bold;font-style:normal" >10</text>
<line x1="171.50" y1="201.24" x2="175.00" y2="201.24" stroke="#111" stroke-width="1.4"/>
<text x="171" y="204.84" text-anchor="end" fill="#111" stroke="#111" style="font-size:10px;font-weight:bold;font-style:normal" >12</text>
<line x1="175.00" y1="342.00" x2="270.50" y2="342.00" stroke="#111" stroke-width="1.7"/>
<line x1="175.00" y1="342.00" x2="175.00" y2="345.50" stroke="#111" stroke-width="1.4"/>
<text x="175.0" y="355" text-anchor="middle" fill="#111" stroke="#111" style="font-size:10px;font-weight:bold;font-style:normal" >0</text>
<line x1="194.00" y1="342.00" x2="194.00" y2="345.50" stroke="#111" stroke-width="1.4"/>
<text x="194.0" y="355" text-anchor="middle" fill="#111" stroke="#111" style="font-size:10px;font-weight:bold;font-style:normal" >2</text>
<line x1="213.00" y1="342.00" x2="213.00" y2="345.50" stroke="#111" stroke-width="1.4"/>
<text x="213.0" y="355" text-anchor="middle" fill="#111" stroke="#111" style="font-size:10px;font-weight:bold;font-style:normal" >4</text>
<line x1="232.00" y1="342.00" x2="232.00" y2="345.50" stroke="#111" stroke-width="1.4"/>
<text x="232.0" y="355" text-anchor="middle" fill="#111" stroke="#111" style="font-size:10px;font-weight:bold;font-style:normal" >6</text>
<line x1="251.00" y1="342.00" x2="251.00" y2="345.50" stroke="#111" stroke-width="1.4"/>
<text x="251.0" y="355" text-anchor="middle" fill="#111" stroke="#111" style="font-size:10px;font-weight:bold;font-style:normal" >8</text>
<line x1="270.00" y1="342.00" x2="270.00" y2="345.50" stroke="#111" stroke-width="1.4"/>
<text x="270.0" y="355" text-anchor="middle" fill="#111" stroke="#111" style="font-size:10px;font-weight:bold;font-style:normal" >10</text>
<text x="222.2" y="368.3" text-anchor="middle" fill="#111" stroke="#111" style="font-size:10px;font-weight:bold;font-style:normal" >Day</text>
<line x1="184.50" y1="319.71" x2="184.50" y2="333.79" stroke="#111" stroke-width="1.15"/>
<line x1="181.30" y1="319.71" x2="187.70" y2="319.71" stroke="#111" stroke-width="1.15"/>
<line x1="181.30" y1="333.79" x2="187.70" y2="333.79" stroke="#111" stroke-width="1.15"/>
<line x1="194.00" y1="300.94" x2="194.00" y2="324.40" stroke="#111" stroke-width="1.15"/>
<line x1="190.80" y1="300.94" x2="197.20" y2="300.94" stroke="#111" stroke-width="1.15"/>
<line x1="190.80" y1="324.40" x2="197.20" y2="324.40" stroke="#111" stroke-width="1.15"/>
<line x1="203.50" y1="263.41" x2="203.50" y2="305.64" stroke="#111" stroke-width="1.15"/>
<line x1="200.30" y1="263.41" x2="206.70" y2="263.41" stroke="#111" stroke-width="1.15"/>
<line x1="200.30" y1="305.64" x2="206.70" y2="305.64" stroke="#111" stroke-width="1.15"/>
<line x1="213.00" y1="244.88" x2="213.00" y2="296.49" stroke="#111" stroke-width="1.15"/>
<line x1="209.80" y1="244.88" x2="216.20" y2="244.88" stroke="#111" stroke-width="1.15"/>
<line x1="209.80" y1="296.49" x2="216.20" y2="296.49" stroke="#111" stroke-width="1.15"/>
<line x1="222.50" y1="233.50" x2="222.50" y2="264.00" stroke="#111" stroke-width="1.15"/>
<line x1="219.30" y1="233.50" x2="225.70" y2="233.50" stroke="#111" stroke-width="1.15"/>
<line x1="219.30" y1="264.00" x2="225.70" y2="264.00" stroke="#111" stroke-width="1.15"/>
<line x1="232.00" y1="218.37" x2="232.00" y2="241.83" stroke="#111" stroke-width="1.15"/>
<line x1="228.80" y1="218.37" x2="235.20" y2="218.37" stroke="#111" stroke-width="1.15"/>
<line x1="228.80" y1="241.83" x2="235.20" y2="241.83" stroke="#111" stroke-width="1.15"/>
<line x1="241.50" y1="208.40" x2="241.50" y2="234.20" stroke="#111" stroke-width="1.15"/>
<line x1="238.30" y1="208.40" x2="244.70" y2="208.40" stroke="#111" stroke-width="1.15"/>
<line x1="238.30" y1="234.20" x2="244.70" y2="234.20" stroke="#111" stroke-width="1.15"/>
<line x1="251.00" y1="210.62" x2="251.00" y2="236.43" stroke="#111" stroke-width="1.15"/>
<line x1="247.80" y1="210.62" x2="254.20" y2="210.62" stroke="#111" stroke-width="1.15"/>
<line x1="247.80" y1="236.43" x2="254.20" y2="236.43" stroke="#111" stroke-width="1.15"/>
<line x1="260.50" y1="223.76" x2="260.50" y2="237.84" stroke="#111" stroke-width="1.15"/>
<line x1="257.30" y1="223.76" x2="263.70" y2="223.76" stroke="#111" stroke-width="1.15"/>
<line x1="257.30" y1="237.84" x2="263.70" y2="237.84" stroke="#111" stroke-width="1.15"/>
<line x1="184.50" y1="329.10" x2="184.50" y2="338.48" stroke="#111" stroke-width="1.15"/>
<line x1="181.30" y1="329.10" x2="187.70" y2="329.10" stroke="#111" stroke-width="1.15"/>
<line x1="181.30" y1="338.48" x2="187.70" y2="338.48" stroke="#111" stroke-width="1.15"/>
<line x1="194.00" y1="309.16" x2="194.00" y2="327.92" stroke="#111" stroke-width="1.15"/>
<line x1="190.80" y1="309.16" x2="197.20" y2="309.16" stroke="#111" stroke-width="1.15"/>
<line x1="190.80" y1="327.92" x2="197.20" y2="327.92" stroke="#111" stroke-width="1.15"/>
<line x1="203.50" y1="288.04" x2="203.50" y2="323.23" stroke="#111" stroke-width="1.15"/>
<line x1="200.30" y1="288.04" x2="206.70" y2="288.04" stroke="#111" stroke-width="1.15"/>
<line x1="200.30" y1="323.23" x2="206.70" y2="323.23" stroke="#111" stroke-width="1.15"/>
<line x1="213.00" y1="268.69" x2="213.00" y2="308.57" stroke="#111" stroke-width="1.15"/>
<line x1="209.80" y1="268.69" x2="216.20" y2="268.69" stroke="#111" stroke-width="1.15"/>
<line x1="209.80" y1="308.57" x2="216.20" y2="308.57" stroke="#111" stroke-width="1.15"/>
<line x1="222.50" y1="255.20" x2="222.50" y2="295.08" stroke="#111" stroke-width="1.15"/>
<line x1="219.30" y1="255.20" x2="225.70" y2="255.20" stroke="#111" stroke-width="1.15"/>
<line x1="219.30" y1="295.08" x2="225.70" y2="295.08" stroke="#111" stroke-width="1.15"/>
<line x1="232.00" y1="245.93" x2="232.00" y2="281.12" stroke="#111" stroke-width="1.15"/>
<line x1="228.80" y1="245.93" x2="235.20" y2="245.93" stroke="#111" stroke-width="1.15"/>
<line x1="228.80" y1="281.12" x2="235.20" y2="281.12" stroke="#111" stroke-width="1.15"/>
<line x1="241.50" y1="236.43" x2="241.50" y2="266.93" stroke="#111" stroke-width="1.15"/>
<line x1="238.30" y1="236.43" x2="244.70" y2="236.43" stroke="#111" stroke-width="1.15"/>
<line x1="238.30" y1="266.93" x2="244.70" y2="266.93" stroke="#111" stroke-width="1.15"/>
<line x1="251.00" y1="223.18" x2="251.00" y2="256.02" stroke="#111" stroke-width="1.15"/>
<line x1="247.80" y1="223.18" x2="254.20" y2="223.18" stroke="#111" stroke-width="1.15"/>
<line x1="247.80" y1="256.02" x2="254.20" y2="256.02" stroke="#111" stroke-width="1.15"/>
<polyline points="175.00,342.00 184.50,342.00 194.00,342.00 203.50,342.00 213.00,342.00 222.50,342.00 232.00,342.00 241.50,342.00 251.00,342.00 260.50,342.00" fill="none" stroke="#111" stroke-width="1.6" stroke-linejoin="round"/>
<polyline points="175.00,342.00 184.50,326.75 194.00,312.68 203.50,284.52 213.00,270.68 222.50,248.75 232.00,230.10 241.50,221.30 251.00,223.53 260.50,230.80" fill="none" stroke="#111" stroke-width="1.6" stroke-linejoin="round"/>
<polyline points="175.00,342.00 184.50,333.79 194.00,318.54 203.50,305.64 213.00,288.63 222.50,275.14 232.00,263.53 241.50,251.68 251.00,239.60 260.50,245.46" fill="none" stroke="#111" stroke-width="1.6" stroke-linejoin="round"/>
<polygon points="175.00,339.02 178.50,344.48 171.50,344.48" fill="none" stroke="#111" stroke-width="1.1" stroke-linejoin="miter"/>
<polygon points="184.50,339.02 188.00,344.48 181.00,344.48" fill="none" stroke="#111" stroke-width="1.1" stroke-linejoin="miter"/>
<polygon points="194.00,339.02 197.50,344.48 190.50,344.48" fill="none" stroke="#111" stroke-width="1.1" stroke-linejoin="miter"/>
<polygon points="203.50,339.02 207.00,344.48 200.00,344.48" fill="none" stroke="#111" stroke-width="1.1" stroke-linejoin="miter"/>
<polygon points="213.00,339.02 216.50,344.48 209.50,344.48" fill="none" stroke="#111" stroke-width="1.1" stroke-linejoin="miter"/>
<polygon points="222.50,339.02 226.00,344.48 219.00,344.48" fill="none" stroke="#111" stroke-width="1.1" stroke-linejoin="miter"/>
<polygon points="232.00,339.02 235.50,344.48 228.50,344.48" fill="none" stroke="#111" stroke-width="1.1" stroke-linejoin="miter"/>
<polygon points="241.50,339.02 245.00,344.48 238.00,344.48" fill="none" stroke="#111" stroke-width="1.1" stroke-linejoin="miter"/>
<polygon points="251.00,339.02 254.50,344.48 247.50,344.48" fill="none" stroke="#111" stroke-width="1.1" stroke-linejoin="miter"/>
<polygon points="260.50,339.02 264.00,344.48 257.00,344.48" fill="none" stroke="#111" stroke-width="1.1" stroke-linejoin="miter"/>
<circle cx="175.00" cy="342.30" r="3.25" fill="none" stroke="#111" stroke-width="1.3"/>
<circle cx="184.50" cy="342.30" r="3.25" fill="none" stroke="#111" stroke-width="1.3"/>
<circle cx="194.00" cy="342.30" r="3.25" fill="none" stroke="#111" stroke-width="1.3"/>
<circle cx="203.50" cy="342.30" r="3.25" fill="none" stroke="#111" stroke-width="1.3"/>
<circle cx="213.00" cy="342.30" r="3.25" fill="none" stroke="#111" stroke-width="1.3"/>
<circle cx="222.50" cy="342.30" r="3.25" fill="none" stroke="#111" stroke-width="1.3"/>
<circle cx="232.00" cy="342.30" r="3.25" fill="none" stroke="#111" stroke-width="1.3"/>
<circle cx="241.50" cy="342.30" r="3.25" fill="none" stroke="#111" stroke-width="1.3"/>
<circle cx="251.00" cy="342.30" r="3.25" fill="none" stroke="#111" stroke-width="1.3"/>
<circle cx="260.50" cy="342.30" r="3.25" fill="none" stroke="#111" stroke-width="1.3"/>
<polygon points="175.00,338.02 179.25,344.65 170.75,344.65" fill="#111"/>
<polygon points="184.50,322.77 188.75,329.40 180.25,329.40" fill="#111"/>
<polygon points="194.00,308.70 198.25,315.33 189.75,315.33" fill="#111"/>
<polygon points="203.50,280.55 207.75,287.18 199.25,287.18" fill="#111"/>
<polygon points="213.00,266.70 217.25,273.33 208.75,273.33" fill="#111"/>
<polygon points="222.50,244.77 226.75,251.40 218.25,251.40" fill="#111"/>
<polygon points="232.00,226.12 236.25,232.75 227.75,232.75" fill="#111"/>
<polygon points="241.50,217.32 245.75,223.95 237.25,223.95" fill="#111"/>
<polygon points="251.00,219.55 255.25,226.18 246.75,226.18" fill="#111"/>
<polygon points="260.50,226.82 264.75,233.45 256.25,233.45" fill="#111"/>
<circle cx="175.00" cy="342.00" r="3.50" fill="#111"/>
<circle cx="184.50" cy="333.79" r="3.50" fill="#111"/>
<circle cx="194.00" cy="318.54" r="3.50" fill="#111"/>
<circle cx="203.50" cy="305.64" r="3.50" fill="#111"/>
<circle cx="213.00" cy="288.63" r="3.50" fill="#111"/>
<circle cx="222.50" cy="275.14" r="3.50" fill="#111"/>
<circle cx="232.00" cy="263.53" r="3.50" fill="#111"/>
<circle cx="241.50" cy="251.68" r="3.50" fill="#111"/>
<circle cx="251.00" cy="239.60" r="3.50" fill="#111"/>
<circle cx="260.50" cy="245.46" r="3.50" fill="#111"/>
<rect x="171.5" y="338.5" width="7" height="7" fill="#111"/>
<line x1="267.00" y1="230.80" x2="267.00" y2="245.90" stroke="#111" stroke-width="1.5"/>
<circle cx="271.5" cy="238.8" r="1.2" fill="#111"/>
<circle cx="274.9" cy="238.8" r="1.2" fill="#111"/>
<circle cx="278.4" cy="238.8" r="1.2" fill="#111"/>
<line x1="225.80" y1="298.30" x2="237.00" y2="298.30" stroke="#111" stroke-width="1.5"/>
<circle cx="231.30" cy="298.30" r="2.95" fill="none" stroke="#111" stroke-width="1.1"/>
<text x="237.8" y="300.8" fill="#111" style="font-size:9.6px;font-weight:bold;font-style:italic">Pten</text>
<text x="260.2" y="297.8" fill="#111" textLength="63.3" lengthAdjust="spacingAndGlyphs" style="font-size:6.5px;font-weight:bold;font-style:italic">wt/wt Fc<tspan fill="#777" stroke="none" style="font-weight:normal;font-style:normal">ε</tspan>RI<tspan fill="#777" stroke="none" style="font-weight:normal;font-style:normal">β</tspan>Cre+/+</text>
<text x="324.7" y="298.8" fill="#111" textLength="23.6" lengthAdjust="spacingAndGlyphs" style="font-size:8.4px;font-weight:bold">(Ctrl)</text>
<line x1="225.80" y1="308.80" x2="237.00" y2="308.80" stroke="#111" stroke-width="1.5"/>
<circle cx="231.30" cy="308.80" r="3.50" fill="#111"/>
<text x="237.8" y="311.3" fill="#111" style="font-size:9.6px;font-weight:bold;font-style:italic">Pten</text>
<text x="260.2" y="308.3" fill="#111" textLength="63.3" lengthAdjust="spacingAndGlyphs" style="font-size:6.5px;font-weight:bold;font-style:italic">wt/wt Fc<tspan fill="#777" stroke="none" style="font-weight:normal;font-style:normal">ε</tspan>RI<tspan fill="#777" stroke="none" style="font-weight:normal;font-style:normal">β</tspan>Cre+/+</text>
<text x="324.7" y="309.2" fill="#111" textLength="23.6" lengthAdjust="spacingAndGlyphs" style="font-size:8.4px;font-weight:bold">(GPI)</text>
<line x1="225.80" y1="319.30" x2="237.00" y2="319.30" stroke="#111" stroke-width="1.5"/>
<polygon points="231.30,315.20 235.68,322.03 226.93,322.03" fill="none" stroke="#111" stroke-width="1.1" stroke-linejoin="miter"/>
<text x="237.8" y="322.2" fill="#111" style="font-size:9.6px;font-weight:bold;font-style:italic">Pten</text>
<text x="259.4" y="319.2" fill="#111" textLength="55.8" lengthAdjust="spacingAndGlyphs" style="font-size:6.5px;font-weight:bold;font-style:italic">fl/fl Fc<tspan fill="#777" stroke="none" style="font-weight:normal;font-style:normal">ε</tspan>RI<tspan fill="#777" stroke="none" style="font-weight:normal;font-style:normal">β</tspan>Cre+/+</text>
<text x="315.5" y="322.3" fill="#111" textLength="23.6" lengthAdjust="spacingAndGlyphs" style="font-size:8.4px;font-weight:bold">(Ctrl)</text>
<line x1="225.80" y1="329.80" x2="237.00" y2="329.80" stroke="#111" stroke-width="1.5"/>
<polygon points="231.30,325.70 235.68,332.53 226.93,332.53" fill="#111"/>
<text x="237.8" y="332.5" fill="#111" style="font-size:9.6px;font-weight:bold;font-style:italic">Pten</text>
<text x="259.4" y="329.5" fill="#111" textLength="55.8" lengthAdjust="spacingAndGlyphs" style="font-size:6.5px;font-weight:bold;font-style:italic">fl/fl Fc<tspan fill="#777" stroke="none" style="font-weight:normal;font-style:normal">ε</tspan>RI<tspan fill="#777" stroke="none" style="font-weight:normal;font-style:normal">β</tspan>Cre+/+</text>
<text x="315.5" y="332.4" fill="#111" textLength="23.6" lengthAdjust="spacingAndGlyphs" style="font-size:8.4px;font-weight:bold">(GPI)</text>
<text x="339" y="202.5" text-anchor="start" fill="#111" stroke="#111" style="font-size:17px;font-weight:bold;font-style:normal" >D</text>
<text transform="translate(359.3,271.5) rotate(-90)" text-anchor="middle" fill="#111" style="font-size:10px;font-weight:bold">Vascular Permeability</text>
<text transform="translate(370.6,271.3) rotate(-90)" text-anchor="middle" fill="#111" style="font-size:10.3px;font-weight:bold">Evans Blue (A<tspan dy="2.6" style="font-size:7.5px">620</tspan><tspan dy="-2.6">)</tspan></text>
<line x1="396.00" y1="232.40" x2="396.00" y2="311.60" stroke="#111" stroke-width="1.7"/>
<line x1="392.50" y1="311.00" x2="396.00" y2="311.00" stroke="#111" stroke-width="1.4"/>
<text x="391.5" y="314.6" text-anchor="end" fill="#111" stroke="#111" style="font-size:10px;font-weight:bold;font-style:normal" >0.0</text>
<line x1="392.50" y1="285.00" x2="396.00" y2="285.00" stroke="#111" stroke-width="1.4"/>
<text x="391.5" y="288.6" text-anchor="end" fill="#111" stroke="#111" style="font-size:10px;font-weight:bold;font-style:normal" >0.5</text>
<line x1="392.50" y1="259.00" x2="396.00" y2="259.00" stroke="#111" stroke-width="1.4"/>
<text x="391.5" y="262.6" text-anchor="end" fill="#111" stroke="#111" style="font-size:10px;font-weight:bold;font-style:normal" >1.0</text>
<line x1="392.50" y1="233.00" x2="396.00" y2="233.00" stroke="#111" stroke-width="1.4"/>
<text x="391.5" y="236.6" text-anchor="end" fill="#111" stroke="#111" style="font-size:10px;font-weight:bold;font-style:normal" >1.5</text>
<line x1="396.00" y1="311.00" x2="514.00" y2="311.00" stroke="#111" stroke-width="1.7"/>
<line x1="410.40" y1="311.00" x2="410.40" y2="314.50" stroke="#111" stroke-width="1.4"/>
<line x1="440.00" y1="311.00" x2="440.00" y2="314.50" stroke="#111" stroke-width="1.4"/>
<line x1="469.80" y1="311.00" x2="469.80" y2="314.50" stroke="#111" stroke-width="1.4"/>
<line x1="499.00" y1="311.00" x2="499.00" y2="314.50" stroke="#111" stroke-width="1.4"/>
<circle cx="410.20" cy="292.28" r="2.53" fill="none" stroke="#111" stroke-width="1.15"/>
<circle cx="410.20" cy="300.08" r="2.53" fill="none" stroke="#111" stroke-width="1.15"/>
<circle cx="406.60" cy="301.90" r="2.53" fill="none" stroke="#111" stroke-width="1.15"/>
<circle cx="413.80" cy="301.90" r="2.53" fill="none" stroke="#111" stroke-width="1.15"/>
<circle cx="405.40" cy="305.80" r="2.53" fill="none" stroke="#111" stroke-width="1.15"/>
<circle cx="410.20" cy="305.80" r="2.53" fill="none" stroke="#111" stroke-width="1.15"/>
<circle cx="415.00" cy="305.80" r="2.53" fill="none" stroke="#111" stroke-width="1.15"/>
<line x1="401.00" y1="302.16" x2="420.20" y2="302.16" stroke="#111" stroke-width="1.5"/>
<polygon points="439.80,295.01 443.55,300.86 436.05,300.86" fill="none" stroke="#111" stroke-width="1.15" stroke-linejoin="miter"/>
<polygon points="437.00,298.65 440.75,304.50 433.25,304.50" fill="none" stroke="#111" stroke-width="1.15" stroke-linejoin="miter"/>
<polygon points="442.60,298.65 446.35,304.50 438.85,304.50" fill="none" stroke="#111" stroke-width="1.15" stroke-linejoin="miter"/>
<polygon points="439.80,302.29 443.55,308.14 436.05,308.14" fill="none" stroke="#111" stroke-width="1.15" stroke-linejoin="miter"/>
<polygon points="444.20,302.81 447.95,308.66 440.45,308.66" fill="none" stroke="#111" stroke-width="1.15" stroke-linejoin="miter"/>
<rect x="433.3" y="304.8" width="3.8" height="3.6" fill="#777" stroke="#333" stroke-width="0.6"/>
<line x1="430.50" y1="302.16" x2="449.80" y2="302.16" stroke="#111" stroke-width="1.5"/>
<circle cx="469.40" cy="277.10" r="3.00" fill="#111"/>
<circle cx="465.60" cy="284.12" r="3.00" fill="#111"/>
<circle cx="472.90" cy="284.58" r="3.00" fill="#111"/>
<circle cx="464.00" cy="290.20" r="3.00" fill="#111"/>
<circle cx="469.00" cy="288.64" r="3.00" fill="#111"/>
<circle cx="474.00" cy="288.12" r="3.00" fill="#111"/>
<circle cx="468.90" cy="298.10" r="3.00" fill="#111"/>
<circle cx="473.70" cy="295.92" r="3.00" fill="#111"/>
<circle cx="466.50" cy="286.56" r="3.00" fill="#111"/>
<line x1="459.00" y1="287.29" x2="479.30" y2="287.29" stroke="#111" stroke-width="1.5"/>
<circle cx="469" cy="286.3" r="1.3" fill="#fff"/>
<polygon points="498.50,246.77 502.12,252.42 494.88,252.42" fill="#111"/>
<polygon points="494.40,266.01 498.02,271.66 490.77,271.66" fill="#111"/>
<polygon points="502.60,266.01 506.23,271.66 498.98,271.66" fill="#111"/>
<polygon points="498.50,266.53 502.12,272.18 494.88,272.18" fill="#111"/>
<polygon points="494.40,279.01 498.02,284.66 490.77,284.66" fill="#111"/>
<polygon points="494.40,282.65 498.02,288.30 490.77,288.30" fill="#111"/>
<polygon points="503.00,279.01 506.62,284.66 499.38,284.66" fill="#111"/>
<polygon points="503.00,282.65 506.62,288.30 499.38,288.30" fill="#111"/>
<line x1="489.30" y1="273.82" x2="508.80" y2="273.82" stroke="#111" stroke-width="1.5"/>
<polygon points="497.2,273.2 499.8,273.2 498.5,276.0" fill="#fff"/>
<polyline points="468.8,242.8 468.8,236.5 499,236.5 499,242.8" fill="none" stroke="#111" stroke-width="1.2"/>
<circle cx="482.0" cy="231.8" r="1.2" fill="#111"/>
<circle cx="485.9" cy="231.8" r="1.2" fill="#111"/>
<text transform="translate(369.75,363.25) rotate(-43.5)" fill="#111" textLength="62.25" lengthAdjust="spacingAndGlyphs" style="font-size:8.2px;font-weight:bold;font-style:italic">wt/wt Fc<tspan fill="#777" stroke="none" style="font-weight:normal;font-style:normal">ε</tspan>RI<tspan fill="#777" stroke="none" style="font-weight:normal;font-style:normal">β</tspan>Cre+/+</text>
<text transform="translate(371.17,366.49) rotate(-40)" text-anchor="end" fill="#111" style="font-size:10.2px;font-weight:bold;font-style:italic">Pten</text>
<g transform="translate(416.4,323) rotate(-43)">
<text x="-41.6" y="8.7" text-anchor="middle" fill="#111" style="font-size:9px;font-weight:bold">(PBS)</text>
</g>
<text transform="translate(404.28,358.57) rotate(-43.5)" fill="#111" textLength="55.45" lengthAdjust="spacingAndGlyphs" style="font-size:8.2px;font-weight:bold;font-style:italic">fl/fl Fc<tspan fill="#777" stroke="none" style="font-weight:normal;font-style:normal">ε</tspan>RI<tspan fill="#777" stroke="none" style="font-weight:normal;font-style:normal">β</tspan>Cre+/+</text>
<text transform="translate(405.70,361.81) rotate(-40)" text-anchor="end" fill="#111" style="font-size:10.2px;font-weight:bold;font-style:italic">Pten</text>
<g transform="translate(446,323) rotate(-43)">
<text x="-36" y="6.5" text-anchor="middle" fill="#111" style="font-size:9px;font-weight:bold">(PBS)</text>
</g>
<text transform="translate(429.15,363.25) rotate(-43.5)" fill="#111" textLength="62.25" lengthAdjust="spacingAndGlyphs" style="font-size:8.2px;font-weight:bold;font-style:italic">wt/wt Fc<tspan fill="#777" stroke="none" style="font-weight:normal;font-style:normal">ε</tspan>RI<tspan fill="#777" stroke="none" style="font-weight:normal;font-style:normal">β</tspan>Cre+/+</text>
<text transform="translate(430.57,366.49) rotate(-40)" text-anchor="end" fill="#111" style="font-size:10.2px;font-weight:bold;font-style:italic">Pten</text>
<g transform="translate(475.8,323) rotate(-43)">
<text x="-41.6" y="8.7" text-anchor="middle" fill="#111" style="font-size:9px;font-weight:bold">(C48/80)</text>
</g>
<text transform="translate(463.28,358.57) rotate(-43.5)" fill="#111" textLength="55.45" lengthAdjust="spacingAndGlyphs" style="font-size:8.2px;font-weight:bold;font-style:italic">fl/fl Fc<tspan fill="#777" stroke="none" style="font-weight:normal;font-style:normal">ε</tspan>RI<tspan fill="#777" stroke="none" style="font-weight:normal;font-style:normal">β</tspan>Cre+/+</text>
<text transform="translate(464.70,361.81) rotate(-40)" text-anchor="end" fill="#111" style="font-size:10.2px;font-weight:bold;font-style:italic">Pten</text>
<g transform="translate(505,323) rotate(-43)">
<text x="-38" y="8.7" text-anchor="middle" fill="#111" style="font-size:9px;font-weight:bold">(C48/80)</text>
</g>
</g>
</svg>
</body></html>
